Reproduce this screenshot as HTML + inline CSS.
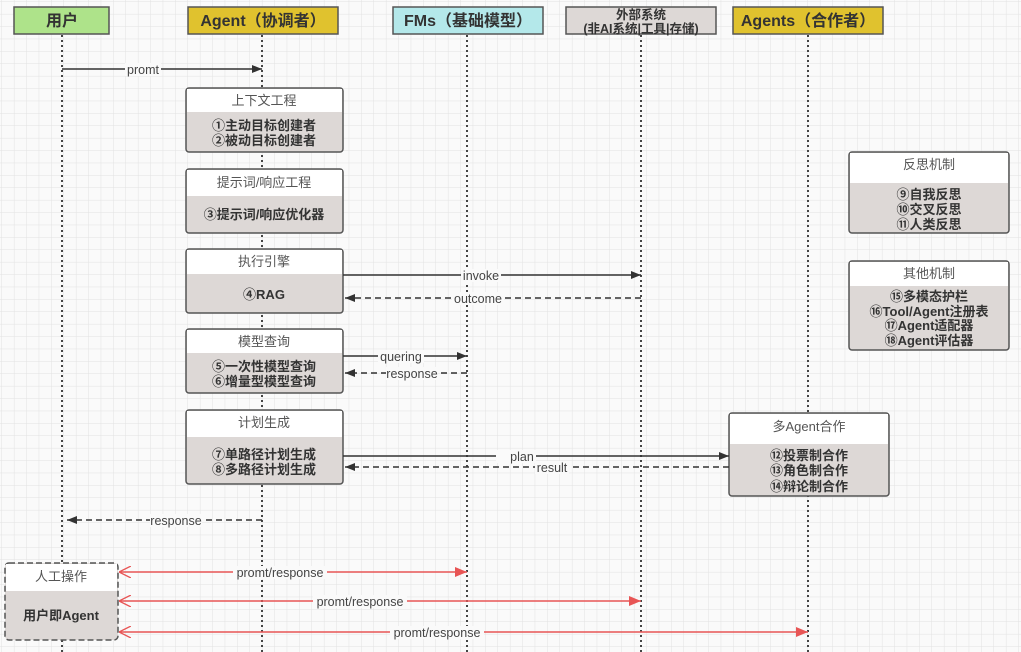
<!DOCTYPE html>
<html><head><meta charset="utf-8"><style>
html,body{margin:0;padding:0;width:1021px;height:652px;overflow:hidden;background:#fafafa}
svg text{font-family:"Liberation Sans","Noto Sans CJK SC",sans-serif}
</style></head><body>
<svg width="1021" height="652" xmlns="http://www.w3.org/2000/svg">
<defs>
<pattern id="g" width="12.4" height="12.4" patternUnits="userSpaceOnUse" x="2" y="2">
<path d="M12.4 0V12.4H0" fill="none" stroke="#e2e2e2" stroke-width="1"/>
</pattern>
<marker id="a" markerWidth="10" markerHeight="8" refX="10" refY="4" orient="auto" markerUnits="userSpaceOnUse"><path d="M0,0L10,4L0,8z" fill="#333"/></marker>
<marker id="r" markerWidth="12" markerHeight="10" refX="12" refY="5" orient="auto" markerUnits="userSpaceOnUse"><path d="M0,0L12,5L0,10z" fill="#e85555"/></marker>
<marker id="ro" markerWidth="12" markerHeight="12" refX="0" refY="6" orient="auto" markerUnits="userSpaceOnUse"><path d="M12,0L0,6L12,12" fill="none" stroke="#e85555" stroke-width="1.3"/></marker>
</defs>
<rect width="1021" height="652" fill="#fafafa"/>
<rect width="1021" height="652" fill="url(#g)"/>

<g stroke="#444" stroke-width="2" stroke-dasharray="2,3">
<line x1="62" y1="35" x2="62" y2="652"/>
<line x1="262" y1="35" x2="262" y2="652"/>
<line x1="467" y1="35" x2="467" y2="652"/>
<line x1="641" y1="35" x2="641" y2="652"/>
<line x1="808" y1="35" x2="808" y2="652"/>
</g>

<g stroke="#555" stroke-width="1.5">
<rect x="14" y="7" width="95" height="27" fill="#aee38a"/>
<rect x="188" y="7" width="150" height="27" fill="#e0c22e"/>
<rect x="393" y="7" width="150" height="27" fill="#b4e8ea"/>
<rect x="566" y="7" width="150" height="27" fill="#ddd8d6"/>
<rect x="733" y="7" width="150" height="27" fill="#e0c22e"/>
</g>
<g font-weight="bold" font-size="16" text-anchor="middle" fill="#333">
<text x="62" y="26">用户</text>
<text x="263" y="26">Agent（协调者）</text>
<text x="468" y="26">FMs（基础模型）</text>
<text x="808" y="26">Agents（合作者）</text>
<text x="641" y="19" font-size="12.5">外部系统</text>
<text x="641" y="33" font-size="12.5">(非AI系统|工具|存储)</text>
</g>

<g stroke="#555" stroke-width="1.5">
<rect x="186" y="88" width="157" height="64" rx="3" fill="#ddd8d6"/>
<rect x="186" y="169" width="157" height="64" rx="3" fill="#ddd8d6"/>
<rect x="186" y="249" width="157" height="64" rx="3" fill="#ddd8d6"/>
<rect x="186" y="329" width="157" height="64" rx="3" fill="#ddd8d6"/>
<rect x="186" y="410" width="157" height="74" rx="3" fill="#ddd8d6"/>
<rect x="849" y="152" width="160" height="81" rx="3" fill="#ddd8d6"/>
<rect x="849" y="261" width="160" height="89" rx="3" fill="#ddd8d6"/>
<rect x="729" y="413" width="160" height="83" rx="3" fill="#ddd8d6"/>
<rect x="5" y="563" width="113" height="77" rx="4" fill="#ddd8d6" stroke-dasharray="6,3"/>
</g>
<g fill="#fff">
<rect x="187" y="89" width="155" height="23"/>
<rect x="187" y="170" width="155" height="26"/>
<rect x="187" y="250" width="155" height="24"/>
<rect x="187" y="330" width="155" height="23"/>
<rect x="187" y="411" width="155" height="26"/>
<rect x="850" y="153" width="158" height="30"/>
<rect x="850" y="262" width="158" height="24"/>
<rect x="730" y="414" width="158" height="30"/>
<rect x="6" y="564" width="111" height="27"/>
</g>
<g font-size="13" fill="#555" text-anchor="middle">
<text x="264" y="105">上下文工程</text>
<text x="264" y="187">提示词/响应工程</text>
<text x="264" y="266">执行引擎</text>
<text x="264" y="346">模型查询</text>
<text x="264" y="427">计划生成</text>
<text x="929" y="169">反思机制</text>
<text x="929" y="278">其他机制</text>
<text x="809" y="431">多Agent合作</text>
<text x="61" y="581">人工操作</text>
</g>
<g font-size="13" font-weight="bold" fill="#333" text-anchor="middle">
<text x="264" y="130">①主动目标创建者</text>
<text x="264" y="145">②被动目标创建者</text>
<text x="264" y="219">③提示词/响应优化器</text>
<text x="264" y="299">④RAG</text>
<text x="264" y="371">⑤一次性模型查询</text>
<text x="264" y="386">⑥增量型模型查询</text>
<text x="264" y="459">⑦单路径计划生成</text>
<text x="264" y="474">⑧多路径计划生成</text>
<text x="929" y="199">⑨自我反思</text>
<text x="929" y="214">⑩交叉反思</text>
<text x="929" y="229">⑪人类反思</text>
<text x="929" y="301">⑮多模态护栏</text>
<text x="929" y="316">⑯Tool/Agent注册表</text>
<text x="929" y="330">⑰Agent适配器</text>
<text x="929" y="345">⑱Agent评估器</text>
<text x="809" y="460">⑫投票制合作</text>
<text x="809" y="475">⑬角色制合作</text>
<text x="809" y="491">⑭辩论制合作</text>
<text x="61" y="620">用户即Agent</text>
</g>

<g stroke="#333" stroke-width="1.5" fill="none">
<line x1="62" y1="69" x2="262" y2="69" marker-end="url(#a)"/>
<line x1="343" y1="275" x2="641" y2="275" marker-end="url(#a)"/>
<line x1="641" y1="298" x2="345" y2="298" stroke-dasharray="6,4" marker-end="url(#a)"/>
<line x1="343" y1="356" x2="467" y2="356" marker-end="url(#a)"/>
<line x1="467" y1="373" x2="345" y2="373" stroke-dasharray="6,4" marker-end="url(#a)"/>
<line x1="343" y1="456" x2="729" y2="456" marker-end="url(#a)"/>
<line x1="729" y1="467" x2="345" y2="467" stroke-dasharray="6,4" marker-end="url(#a)"/>
<line x1="262" y1="520" x2="67" y2="520" stroke-dasharray="6,4" marker-end="url(#a)"/>
</g>
<g stroke="#e85555" stroke-width="1.5" fill="none">
<line x1="119" y1="572" x2="467" y2="572" marker-end="url(#r)" marker-start="url(#ro)"/>
<line x1="119" y1="601" x2="641" y2="601" marker-end="url(#r)" marker-start="url(#ro)"/>
<line x1="119" y1="632" x2="808" y2="632" marker-end="url(#r)" marker-start="url(#ro)"/>
</g>
<g font-size="12.5" fill="#444" text-anchor="middle">
<rect x="125" y="63" width="36" height="13" fill="#fafafa"/><text x="143" y="74">promt</text>
<rect x="461" y="269" width="40" height="13" fill="#fafafa"/><text x="481" y="280">invoke</text>
<rect x="452" y="292" width="52" height="13" fill="#fafafa"/><text x="478" y="303">outcome</text>
<rect x="378" y="350" width="46" height="13" fill="#fafafa"/><text x="401" y="361">quering</text>
<rect x="386" y="367" width="52" height="13" fill="#fafafa"/><text x="412" y="378">response</text>
<rect x="496" y="450" width="40" height="13" fill="#fafafa"/><text x="522" y="461">plan</text>
<rect x="535" y="461" width="34" height="13" fill="#fafafa"/><text x="552" y="472">result</text>
<rect x="150" y="514" width="52" height="13" fill="#fafafa"/><text x="176" y="525">response</text>
<rect x="233" y="566" width="94" height="13" fill="#fafafa"/><text x="280" y="577">promt/response</text>
<rect x="313" y="595" width="94" height="13" fill="#fafafa"/><text x="360" y="606">promt/response</text>
<rect x="390" y="626" width="94" height="13" fill="#fafafa"/><text x="437" y="637">promt/response</text>
</g>
</svg>
</body></html>
